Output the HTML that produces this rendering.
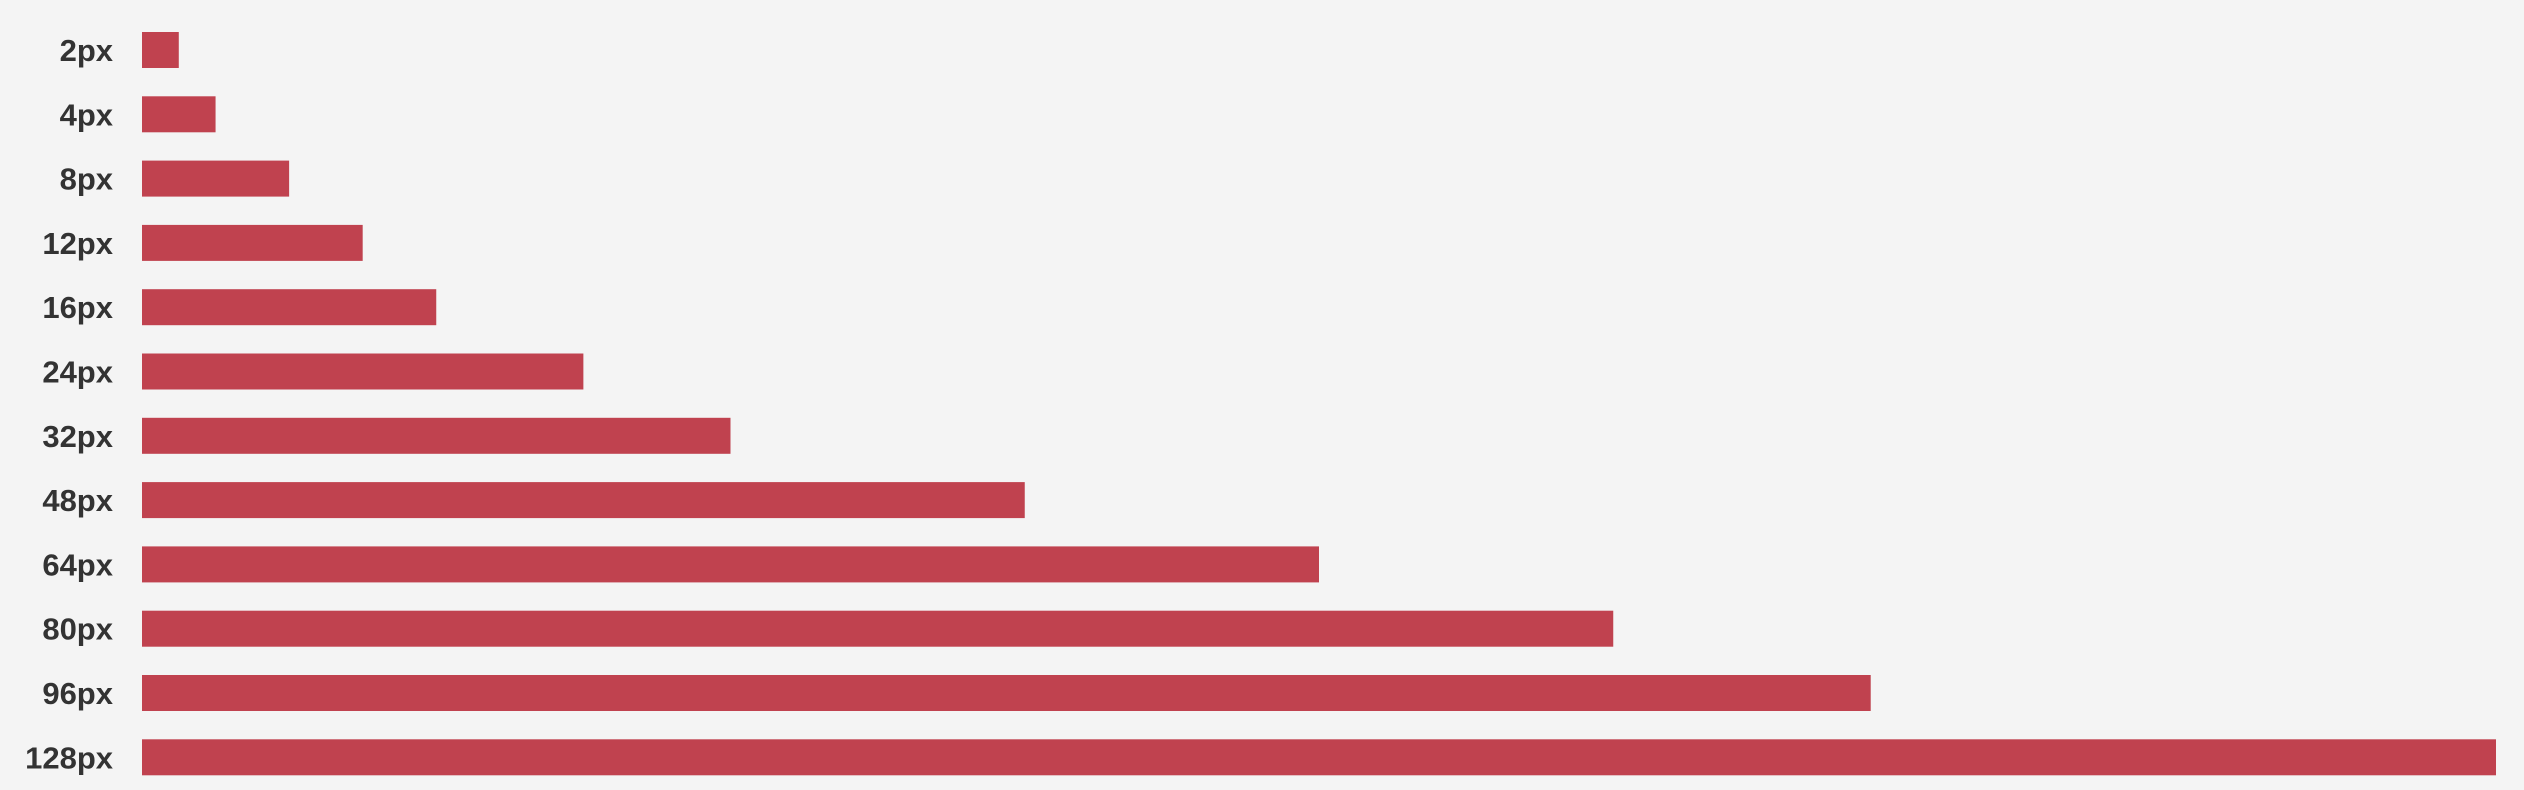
<!DOCTYPE html>
<html><head><meta charset="utf-8"><style>
html,body{margin:0;padding:0;background:#f4f4f4;}
svg{display:block;}
text{font-family:"Liberation Sans",sans-serif;font-weight:bold;fill:#333;}
</style></head><body>
<svg id="chart" width="2524" height="790" viewBox="0 0 2524 790"></svg>
<script>
const categories=["2px","4px","8px","12px","16px","24px","32px","48px","64px","80px","96px","128px"];
const values=[2,4,8,12,16,24,32,48,64,80,94,128];
const svg=document.getElementById('chart');
const NS='http://www.w3.org/2000/svg';
const x0=142, xMax=128, xPix=2354;
function xScale(v){return x0+v/xMax*xPix;}
function yCenter(i){return 50+i*64.3;}
const barH=36;
categories.forEach((c,i)=>{
  const r=document.createElementNS(NS,'rect');
  
  
  r.setAttribute('x',x0);
  r.setAttribute('y',yCenter(i)-barH/2);
  r.setAttribute('width',xScale(values[i])-x0);
  r.setAttribute('height',barH);
  r.setAttribute('fill','#c0424f');
  svg.appendChild(r);
  const t=document.createElementNS(NS,'text');
  
  
  t.setAttribute('x',113);
  t.setAttribute('y',yCenter(i)+11);
  t.setAttribute('text-anchor','end');
  t.setAttribute('font-size','31');
  t.textContent=c;
  svg.appendChild(t);
});
</script>
</body></html>
